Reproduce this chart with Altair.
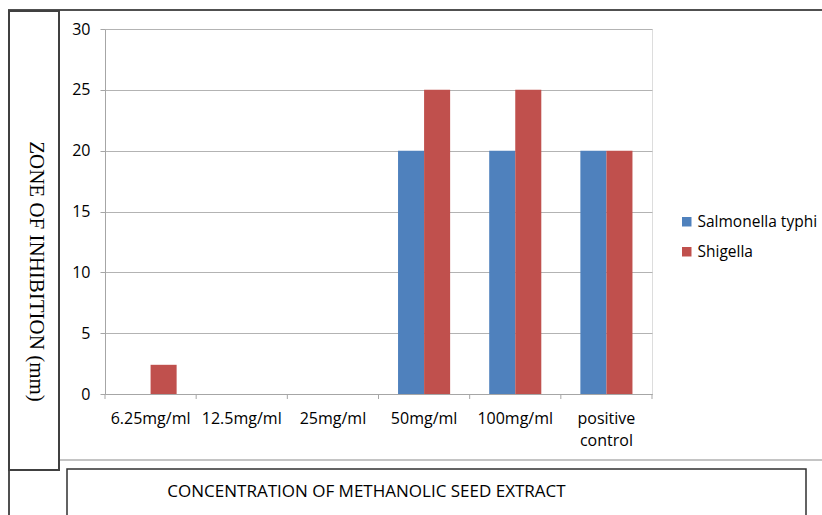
import altair as alt
import pandas as pd

categories = ["6.25mg/ml", "12.5mg/ml", "25mg/ml", "50mg/ml", "100mg/ml", "positive control"]
series = ["Salmonella typhi", "Shigella"]
salmonella = [0, 0, 0, 20, 20, 20]
shigella = [2.4, 0, 0, 25, 25, 20]
colors = ["#4F81BD", "#C0504D"]
y_ticks = [0, 5, 10, 15, 20, 25, 30]

rows = []
for c, s, h in zip(categories, salmonella, shigella):
    rows.append({"cat": c, "series": series[0], "value": s})
    rows.append({"cat": c, "series": series[1], "value": h})
df = pd.DataFrame(rows)

W, H = 547, 365
FONT = "Open Sans"

xscale = alt.Scale(domain=categories, paddingInner=0, paddingOuter=0)

bars = alt.Chart(df).mark_bar().encode(
    x=alt.X("cat:N", scale=xscale, sort=categories,
            axis=alt.Axis(title="CONCENTRATION OF METHANOLIC SEED EXTRACT",
                          labelAngle=0, ticks=False, domainColor="#a6a6a6",
                          labelFont=FONT, labelFontSize=16, labelColor="#000000",
                          labelPadding=16, labelLineHeight=22,
                          labelExpr="datum.label == 'positive control' ? ['positive', 'control'] : datum.label",
                          titleFont=FONT, titleFontSize=17, titleFontWeight="normal",
                          titleColor="#000000", titleX=261, titleY=97,
                          titleAlign="center", titleBaseline="middle")),
    xOffset=alt.XOffset("series:N", sort=series,
                        scale=alt.Scale(paddingInner=0, paddingOuter=0.75)),
    y=alt.Y("value:Q", scale=alt.Scale(domain=[0, 30], nice=False),
            axis=alt.Axis(values=y_ticks, title="ZONE OF INHIBITION (mm)",
                          grid=True, gridColor="#b3b3b3", domainColor="#a6a6a6",
                          tickColor="#a6a6a6", tickSize=5,
                          labelFont=FONT, labelFontSize=16, labelColor="#000000",
                          labelPadding=10,
                          titleFont="Liberation Serif", titleFontSize=21,
                          titleFontWeight="normal", titleColor="#000000",
                          titleAngle=90, titleX=-70, titleY=242,
                          titleAlign="center", titleBaseline="middle")),
    color=alt.Color("series:N", sort=series,
                    scale=alt.Scale(domain=series, range=colors),
                    legend=alt.Legend(title=None, orient="none", legendX=574, legendY=185,
                                      symbolType="square", symbolSize=90,
                                      symbolStrokeWidth=0,
                                      labelFont=FONT, labelFontSize=15.5,
                                      labelColor="#000000", rowPadding=13,
                                      labelOffset=3)),
)

tick_df = pd.DataFrame({"cat": categories})
ticks_start = alt.Chart(tick_df).mark_rule(color="#a6a6a6").encode(
    x=alt.X("cat:N", sort=categories, bandPosition=0),
    y=alt.value(H), y2=alt.value(H + 5),
)
ticks_end = alt.Chart(pd.DataFrame({"cat": [categories[-1]]})).mark_rule(color="#a6a6a6").encode(
    x=alt.X("cat:N", sort=categories, bandPosition=1),
    y=alt.value(H), y2=alt.value(H + 5),
)

one = alt.Data(values=[{"k": 1}])
OX, OY = 105, 29


def rule(x1, y1, x2, y2, color, width):
    return alt.Chart(one).mark_rule(color=color, strokeWidth=width).encode(
        x=alt.value(x1 - OX), x2=alt.value(x2 - OX),
        y=alt.value(y1 - OY), y2=alt.value(y2 - OY))


def box(x1, y1, x2, y2, color, width):
    return alt.Chart(one).mark_rect(fill=None, stroke=color, strokeWidth=width).encode(
        x=alt.value(x1 - OX), x2=alt.value(x2 - OX),
        y=alt.value(y1 - OY), y2=alt.value(y2 - OY))


decor = [
    rule(8, 10, 822, 10, "#505050", 2),
    rule(9, 10, 9, 515, "#505050", 2),
    box(9, 11, 59, 470, "#404040", 2),
    rule(60, 460, 822, 460, "#b0b0b0", 1.5),
    box(67, 469, 806, 520, "#303030", 1.5),
]

chart = alt.layer(bars, ticks_start, ticks_end, *decor).properties(
    width=W, height=H,
    padding={"left": 105, "top": 29, "right": 170, "bottom": 121},
    autosize="none",
).configure_view(stroke=None).configure(background="#ffffff")

chart.save("out.html", embed_options={"renderer": "svg", "actions": False})
